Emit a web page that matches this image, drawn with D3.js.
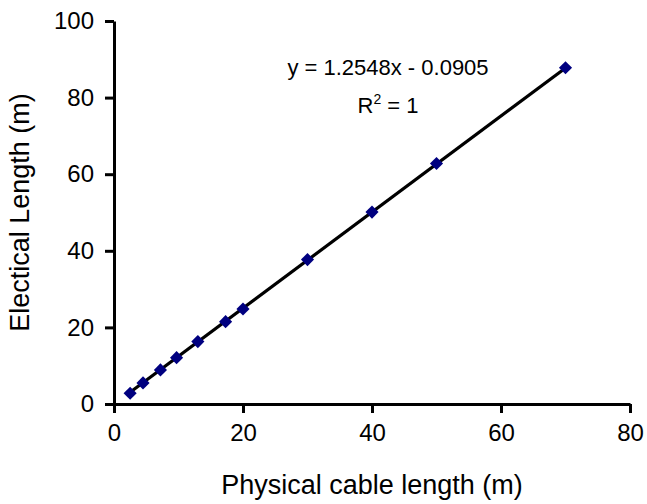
<!DOCTYPE html>
<html>
<head>
<meta charset="utf-8">
<script src="https://cdn.jsdelivr.net/npm/d3@7"></script>
<style>
body { margin: 0; background: #fff; }
text { font-family: "Liberation Sans", Arial, sans-serif; fill: #000; }
</style>
</head>
<body>
<script>
// measured cable lengths (m) and electrical lengths (m)
var physLen = [2.5, 4.5, 7.2, 9.7, 13, 17.3, 20, 30, 40, 50, 70];
var elecLen = [2.8, 5.5, 8.9, 12.1, 16.3, 21.5, 24.8, 37.7, 50.1, 62.8, 87.8];
var xTicks = [0, 20, 40, 60, 80];
var yTicks = [0, 20, 40, 60, 80, 100];
var slope = 1.2548, intercept = -0.0905;

var margin = {top: 21, right: 17, bottom: 100, left: 114};
var width = 647 - margin.left - margin.right;
var height = 504 - margin.top - margin.bottom;

var svg = d3.select("body").append("svg")
	.attr("width", 647)
	.attr("height", 504)
	.append("g")
	.attr("transform", "translate(" + margin.left + "," + margin.top + ")");

var xScale = d3.scaleLinear().domain([0, 80]).range([0, width]);
var yScale = d3.scaleLinear().domain([0, 100]).range([height, 0]);

var xAxis = d3.axisBottom(xScale).tickValues(xTicks).tickSizeInner(9).tickSizeOuter(0).tickPadding(11);
var yAxis = d3.axisLeft(yScale).tickValues(yTicks).tickSizeInner(9).tickSizeOuter(0).tickPadding(11);

var gx = svg.append("g")
	.attr("transform", "translate(0," + height + ")")
	.call(xAxis);
var gy = svg.append("g").call(yAxis);

[gx, gy].forEach(function(g){
	g.selectAll("path").attr("stroke", "#000").attr("stroke-width", 3);
	g.selectAll("line").attr("stroke", "#000").attr("stroke-width", 3);
	g.selectAll("text").style("font-size", "24px").attr("fill", "#000");
});

// trend line over the data range
var x0 = d3.min(physLen), x1 = d3.max(physLen);
svg.append("line")
	.attr("x1", xScale(x0))
	.attr("y1", yScale(slope * x0 + intercept))
	.attr("x2", xScale(x1))
	.attr("y2", yScale(slope * x1 + intercept))
	.attr("stroke", "#000")
	.attr("stroke-width", 3.2);

// diamond markers
var diamond = d3.symbol().type(d3.symbolDiamond2).size(110);
svg.selectAll(".pt")
	.data(physLen)
	.enter().append("path")
	.attr("class", "pt")
	.attr("d", diamond)
	.attr("transform", function(d, i){ return "translate(" + xScale(d) + "," + yScale(elecLen[i]) + ")"; })
	.attr("fill", "#000080");

// equation
svg.append("text")
	.attr("x", 274)
	.attr("y", 54)
	.attr("text-anchor", "middle")
	.style("font-size", "22px")
	.text("y = 1.2548x - 0.0905");

var r2 = svg.append("text")
	.attr("x", 274)
	.attr("y", 92)
	.attr("text-anchor", "middle")
	.style("font-size", "22px");
r2.append("tspan").text("R");
r2.append("tspan").attr("dy", -9).style("font-size", "14px").text("2");
r2.append("tspan").attr("dy", 9).text(" = 1");

// axis titles
svg.append("text")
	.attr("x", width / 2)
	.attr("y", height + 90)
	.attr("text-anchor", "middle")
	.style("font-size", "27px")
	.text("Physical cable length (m)");

svg.append("text")
	.attr("transform", "translate(" + (-85) + "," + (height / 2) + ") rotate(-90)")
	.attr("text-anchor", "middle")
	.style("font-size", "27px")
	.text("Electical Length (m)");
</script>
</body>
</html>
